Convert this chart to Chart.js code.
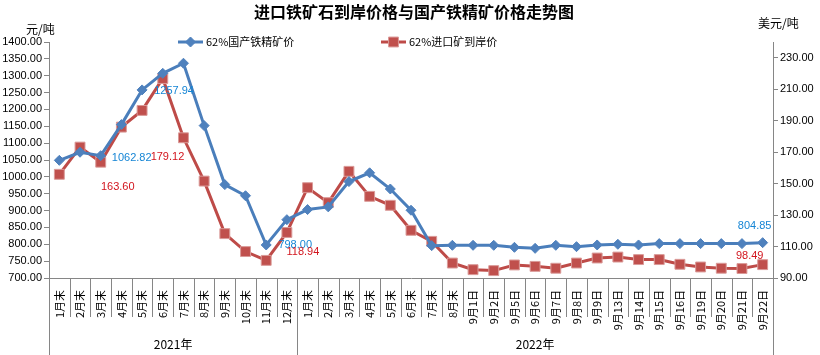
<!DOCTYPE html>
<html><head><meta charset="utf-8">
<script src="https://cdn.jsdelivr.net/npm/chart.js@4"></script>
<style>html,body{margin:0;padding:0;background:#fff;}#wrap{width:820px;height:355px;position:relative;}</style>
</head><body><div id="wrap"><canvas id="c" width="820" height="355"></canvas></div>
<script>
const categories = ['1月末','2月末','3月末','4月末','5月末','6月末','7月末','8月末','9月末','10月末','11月末','12月末',
  '1月末','2月末','3月末','4月末','5月末','6月末','7月末','8月末',
  '9月1日','9月2日','9月5日','9月6日','9月7日','9月8日','9月9日','9月13日','9月14日','9月15日','9月16日','9月19日','9月20日','9月21日','9月22日'];
const groups = ['2021年','2022年'];
const groupSizes = [12, 23];
const domesticPrice = [1049,1073,1062.82,1155,1257.94,1307,1337,1152,977,944,798.00,873,
  903,911,986,1012,964,901,796,797,
  797,797,791,788,797,793,798,800,798,802,802,802,802,802,804.85];
const importPrice = [155.9,173.2,163.60,185.9,196.5,216.8,179.12,151.6,118.2,106.8,101.2,118.94,
  147.4,137.9,157.8,141.9,136.2,120.3,113.3,99.5,
  95.3,94.7,98.3,97.4,96.2,99.5,102.7,103.3,101.7,101.7,98.7,97.0,96.2,96.0,98.49];
const leftTicks = [700,750,800,850,900,950,1000,1050,1100,1150,1200,1250,1300,1350,1400];
const rightTicks = [90,110,130,150,170,190,210,230];
const seriesNames = ['62%国产铁精矿价','62%进口矿到岸价'];
const titleText = '进口铁矿石到岸价格与国产铁精矿价格走势图';
const leftUnit = '元/吨';
const rightUnit = '美元/吨';
const labeledDomestic = [2,4,10,34];
const labeledImport = [2,6,11,34];

const FONT = "'Liberation Sans','Noto Sans CJK SC',sans-serif";
const CJK = "'Noto Sans CJK SC','Liberation Sans',sans-serif";
const AXIS = '#868686';
const BLUE = '#4A7EBB', RED = '#BE4B48';

const labelOffsets = {
  0: {2:[31,2],4:[32,1],10:[29,0],34:[-8,-17]},
  1: {2:[17,25],6:[-16,19],11:[16,20],34:[-13,-9]}
};

const decor = {
  id:'decor',
  afterDraw(chart){
    const ctx = chart.ctx, ca = chart.chartArea, xs = chart.scales.x;
    ctx.save();
    // title
    ctx.fillStyle = '#000';
    ctx.font = "bold 16px " + CJK;
    ctx.textAlign = 'center'; ctx.textBaseline = 'middle';
    ctx.fillText(titleText, 414, 12);
    // units
    ctx.font = "12px " + CJK;
    ctx.textAlign = 'left';
    ctx.fillText(leftUnit, 26, 29);
    ctx.fillText(rightUnit, 758, 23);
    // legend
    const legX = [178, 381];
    chart.data.datasets.forEach((ds, i) => {
      const x0 = legX[i], y = 42;
      ctx.strokeStyle = ds.borderColor; ctx.lineWidth = 3;
      ctx.beginPath(); ctx.moveTo(x0, y); ctx.lineTo(x0 + 25, y); ctx.stroke();
      ctx.fillStyle = ds.pointBackgroundColor; ctx.strokeStyle = ds.pointBorderColor; ctx.lineWidth = 1;
      Chart.helpers.drawPoint(ctx, {pointStyle: ds.pointStyle, radius: ds.pointRadius, borderWidth: 1, rotation: 0}, x0 + 12.5, y);
      ctx.fillStyle = '#000'; ctx.font = "11px " + CJK; ctx.textAlign = 'left'; ctx.textBaseline = 'middle';
      ctx.fillText(ds.label, x0 + 28, y);
    });
    // category separators
    const n = categories.length;
    const step = (ca.right - ca.left) / n;
    const groupEdges = [0];
    groupSizes.reduce((a, s) => { groupEdges.push(a + s); return a + s; }, 0);
    ctx.strokeStyle = AXIS; ctx.lineWidth = 1;
    for (let i = 0; i <= n; i++) {
      const bx = Math.round(xs.getPixelForValue(i) - step / 2) + 0.5;
      const long = groupEdges.includes(i);
      ctx.beginPath(); ctx.moveTo(bx, ca.bottom); ctx.lineTo(bx, long ? 355 : 317); ctx.stroke();
    }
    // group labels
    ctx.fillStyle = '#000'; ctx.font = "12px " + CJK; ctx.textAlign = 'center'; ctx.textBaseline = 'middle';
    for (let g = 0; g < groups.length; g++) {
      const a = xs.getPixelForValue(groupEdges[g]) - step / 2;
      const b = xs.getPixelForValue(groupEdges[g + 1] - 1) + step / 2;
      ctx.fillText(groups[g], (a + b) / 2, 344);
    }
    // data labels
    ctx.font = "11px " + FONT;
    [[0, labeledDomestic, '#1585D5'], [1, labeledImport, '#D2151E']].forEach(([di, idxs, col]) => {
      const meta = chart.getDatasetMeta(di);
      const data = chart.data.datasets[di].data;
      idxs.forEach(k => {
        const p = meta.data[k];
        const off = labelOffsets[di][k];
        ctx.fillStyle = col;
        ctx.fillText(data[k].toFixed(2), p.x + off[0], p.y + off[1]);
      });
    });
    ctx.restore();
  }
};

new Chart(document.getElementById('c'), {
  type: 'line',
  data: {
    labels: categories,
    datasets: [
      {label: seriesNames[0], data: domesticPrice, yAxisID: 'yL', borderColor: BLUE, backgroundColor: BLUE,
       borderWidth: 3, tension: 0, pointStyle: 'rectRot', pointRadius: 5, pointBorderWidth: 1,
       pointBackgroundColor: '#4F81BD', pointBorderColor: '#4F81BD'},
      {label: seriesNames[1], data: importPrice, yAxisID: 'yR', borderColor: RED, backgroundColor: RED,
       borderWidth: 3, tension: 0, pointStyle: 'rect', pointRadius: 7, pointBorderWidth: 1,
       pointBackgroundColor: '#C0504D', pointBorderColor: '#DA9A98'}
    ]
  },
  options: {
    responsive: false, animation: false, devicePixelRatio: 1,
    layout: {padding: {top: 42, left: 0, right: 0, bottom: 0}},
    plugins: {legend: {display: false}, title: {display: false}, tooltip: {enabled: false}},
    scales: {
      x: {
        offset: true,
        grid: {display: false},
        border: {display: true, color: AXIS, width: 1},
        ticks: {autoSkip: false, maxRotation: 90, minRotation: 90, padding: 4, color: '#000', font: {size: 11, family: CJK}},
        afterFit(s) { s.height = 77; }
      },
      yL: {
        position: 'left', min: 700, max: 1400,
        afterBuildTicks(s) { s.ticks = leftTicks.map(v => ({value: v})); },
        grid: {drawOnChartArea: false, drawTicks: true, tickLength: 5, color: AXIS},
        border: {display: true, color: AXIS},
        ticks: {color: '#000', padding: 2, font: {size: 11, family: FONT}, callback: v => Number(v).toFixed(2)},
        afterFit(s) { s.width = 49; }
      },
      yR: {
        position: 'right', min: 90, max: 240,
        afterBuildTicks(s) { s.ticks = rightTicks.map(v => ({value: v})); },
        grid: {drawOnChartArea: false, drawTicks: true, tickLength: 5, color: AXIS},
        border: {display: true, color: AXIS},
        ticks: {color: '#000', padding: 2, font: {size: 11, family: FONT}, callback: v => Number(v).toFixed(2)},
        afterFit(s) { s.width = 47; }
      }
    }
  },
  plugins: [decor]
});
</script>
</body></html>
